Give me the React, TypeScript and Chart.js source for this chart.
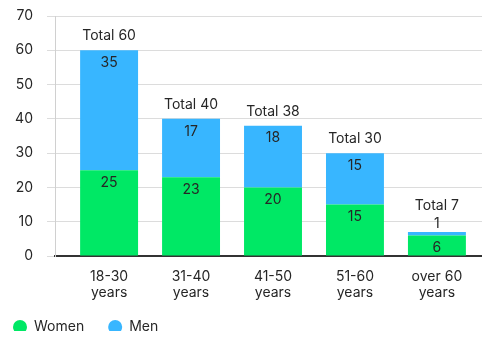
import React, { useEffect, useRef } from 'react';
import { Chart, registerables } from 'chart.js';

Chart.register(...registerables);

// ---- data ----
const categories: string[][] = [
  ['18-30', 'years'],
  ['31-40', 'years'],
  ['41-50', 'years'],
  ['51-60', 'years'],
  ['over 60', 'years'],
];
const women = [25, 23, 20, 15, 6];
const men = [35, 17, 18, 15, 1];
const yTicks = [0, 10, 20, 30, 40, 50, 60, 70];
const seriesNames = ['Women', 'Men'];
const seriesColors = ['#00E865', '#38B6FF'];

const FONT = 'Inter, "Noto Sans", sans-serif';
const TEXT = '#262626';

const stackLabels = {
  id: 'stackLabels',
  afterDatasetsDraw(chart: any) {
    const ctx = chart.ctx;
    const m0 = chart.getDatasetMeta(0);
    const m1 = chart.getDatasetMeta(1);
    ctx.save();
    ctx.font = `14px ${FONT}`;
    ctx.fillStyle = TEXT;
    ctx.textAlign = 'center';
    ctx.textBaseline = 'middle';
    const place = (el: any, v: number) => {
      const top = Math.min(el.y, el.base);
      const h = Math.abs(el.base - el.y);
      const inside = h >= 18;
      const y = inside ? top + 12.5 : top - 8;
      ctx.fillText(String(v), el.x, y);
      return { y, inside };
    };
    women.forEach((w, i) => {
      const b0 = m0.data[i];
      const b1 = m1.data[i];
      if (!b0 || !b1) return;
      place(b0, w);
      const r = place(b1, men[i]);
      let ty = Math.min(b1.y, b1.base) - 14;
      if (!r.inside) ty = Math.min(ty, r.y - 18);
      ctx.fillText(`Total ${w + men[i]}`, b1.x, ty);
    });
    ctx.restore();
  },
};

const legendShift = {
  id: 'legendShift',
  afterLayout(chart: any) {
    const lg = chart.legend;
    if (lg) {
      lg.left -= 11;
      lg.right -= 11;
      lg.top -= 6;
      lg.bottom -= 6;
    }
  },
};

export default function App() {
  const ref = useRef<HTMLCanvasElement | null>(null);

  useEffect(() => {
    if (!ref.current) return;
    const chart = new Chart(ref.current, {
      type: 'bar',
      data: {
        datasets: [
          {
            label: seriesNames[0],
            data: women.map((v, i) => ({ x: i, y: v })),
            backgroundColor: seriesColors[0],
            borderWidth: 0,
            categoryPercentage: 1,
            barPercentage: 0.707,
          },
          {
            label: seriesNames[1],
            data: men.map((v, i) => ({ x: i, y: v })),
            backgroundColor: seriesColors[1],
            borderWidth: 0,
            categoryPercentage: 1,
            barPercentage: 0.707,
          },
        ] as any,
      },
      options: {
        responsive: false,
        devicePixelRatio: 1,
        animation: false,
        layout: { padding: { top: 16, left: 0, right: 0, bottom: 0 } },
        color: TEXT,
        scales: {
          x: {
            type: 'linear',
            stacked: true,
            offset: false,
            min: -0.66,
            max: 4.55,
            afterBuildTicks(scale: any) {
              scale.ticks = categories.map((_, i) => ({ value: i }));
            },
            afterFit(scale: any) {
              scale.height = 46;
            },
            grid: { display: false, drawTicks: false, tickLength: 0, offset: false },
            border: { display: true, color: '#333333', width: 2 },
            ticks: {
              autoSkip: false,
              maxRotation: 0,
              minRotation: 0,
              padding: 12,
              color: TEXT,
              font: { family: FONT, size: 14, lineHeight: 1.2 },
              callback: (v: any) => categories[Number(v)] ?? '',
            },
          } as any,
          y: {
            type: 'linear',
            stacked: true,
            min: yTicks[0],
            max: yTicks[yTicks.length - 1],
            afterBuildTicks(scale: any) {
              scale.ticks = yTicks.map((v) => ({ value: v }));
            },
            afterFit(scale: any) {
              scale.width = 55;
              scale.paddingTop = 8;
              scale.paddingBottom = 8;
            },
            grid: { color: '#dcdcdc', tickColor: '#dcdcdc', tickLength: 8, lineWidth: 1 },
            border: { display: true, color: '#d0d0d0', width: 1 },
            ticks: {
              padding: 14,
              color: TEXT,
              font: { family: FONT, size: 14 },
            },
          } as any,
        },
        plugins: {
          legend: {
            display: true,
            position: 'bottom',
            align: 'start',
            maxHeight: 35,
            labels: {
              usePointStyle: true,
              pointStyle: 'circle',
              pointStyleWidth: 14,
              boxHeight: 10,
              padding: 24,
              color: TEXT,
              font: { family: FONT, size: 14 },
            },
          } as any,
          tooltip: { enabled: false },
        },
      },
      plugins: [stackLabels, legendShift],
    });
    return () => chart.destroy();
  }, []);

  return (
    <div style={{ position: 'absolute', left: 0, top: 0, width: 482, height: 337 }}>
      <canvas ref={ref} width={482} height={337} style={{ display: 'block' }} />
    </div>
  );
}
